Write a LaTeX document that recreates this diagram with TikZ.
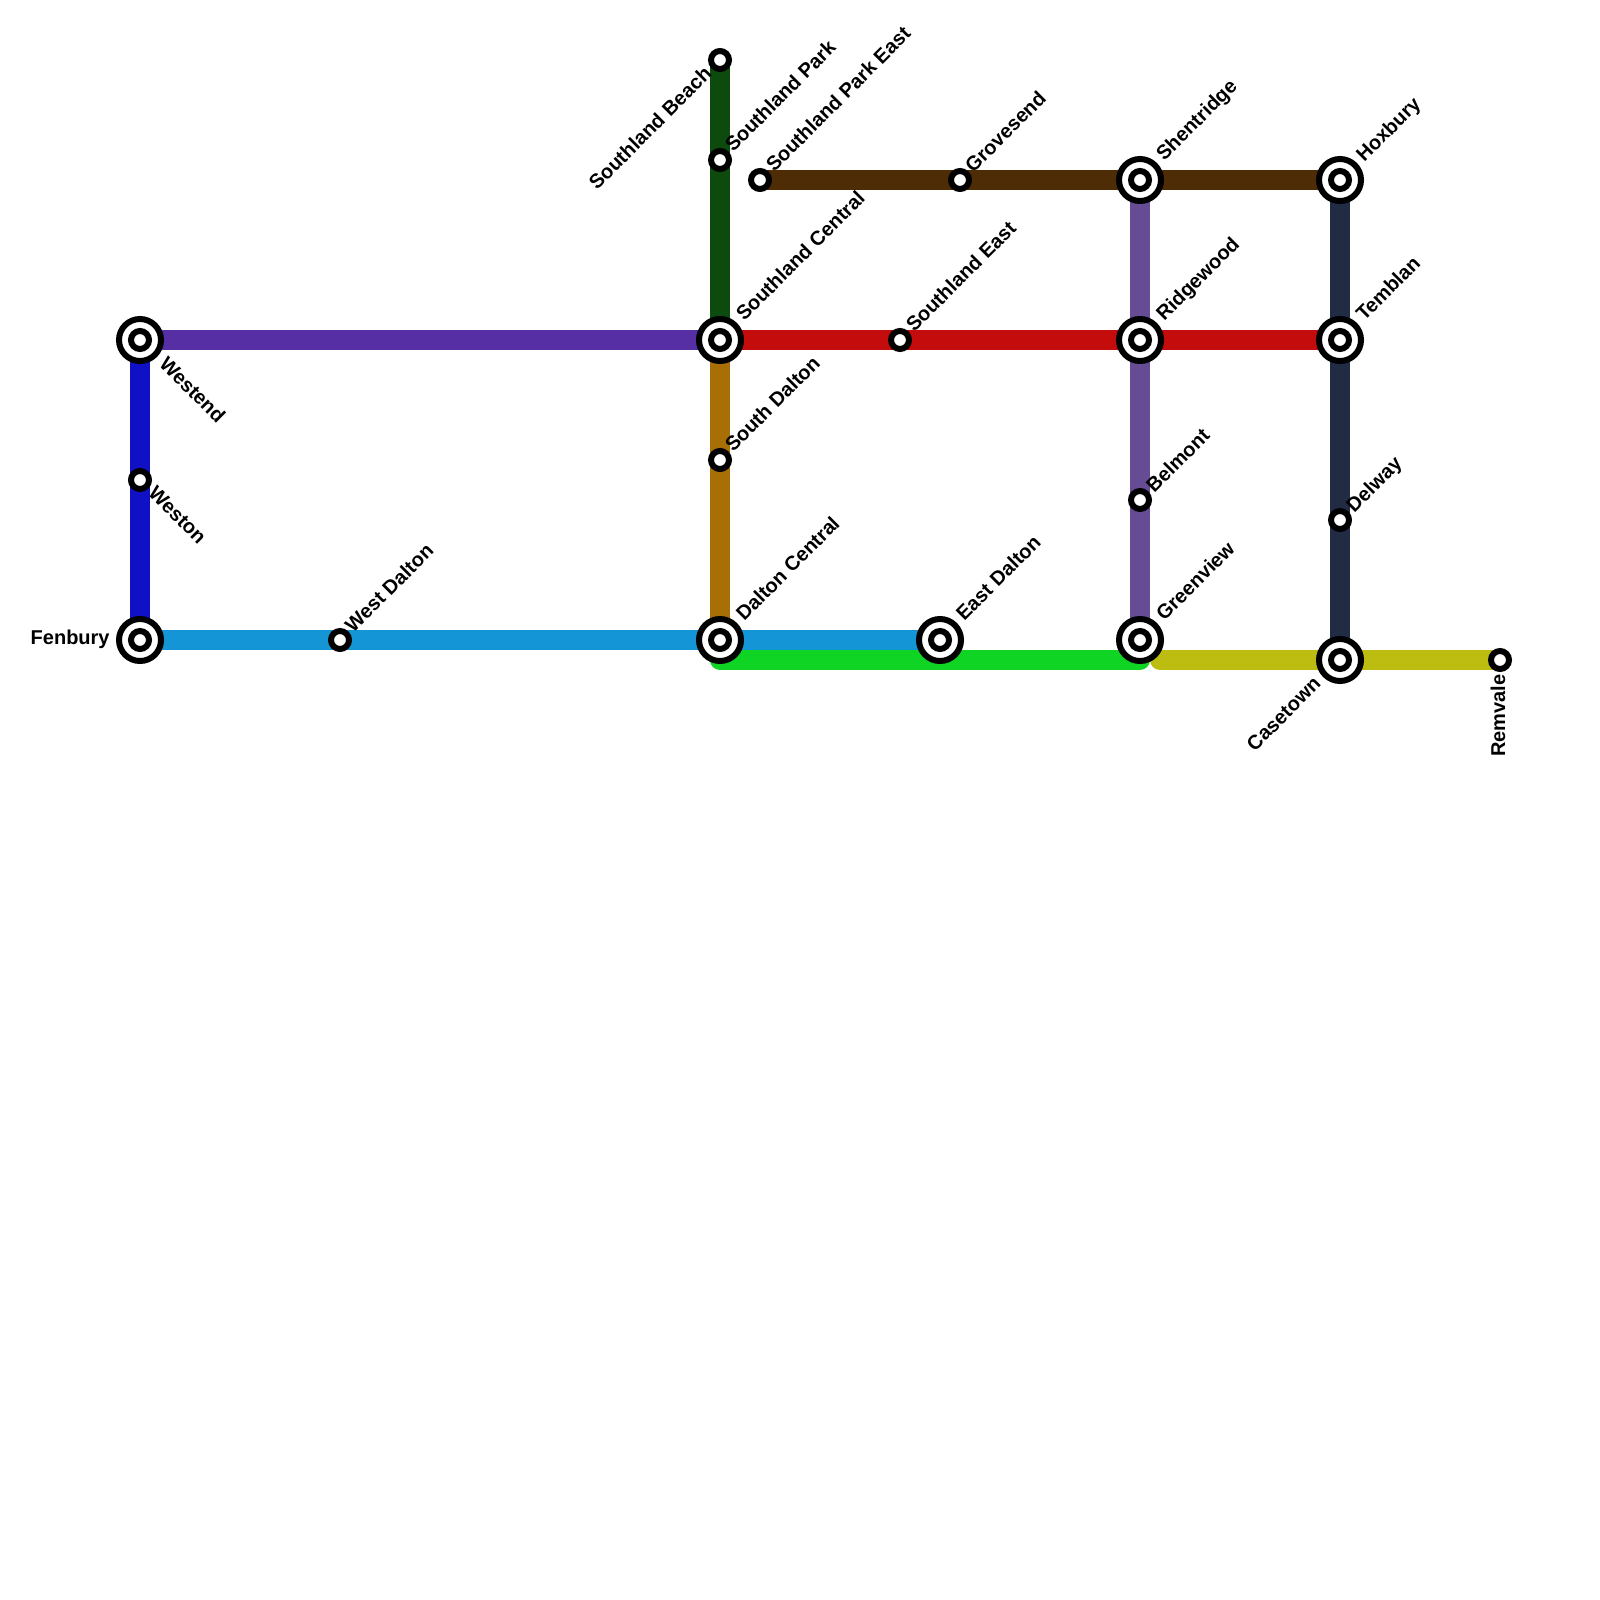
\documentclass[tikz,border=0pt]{standalone}
\usepackage{fontspec}
\setmainfont{Liberation Sans}
\usetikzlibrary{backgrounds}
\definecolor{limel}{HTML}{10D424}
\definecolor{oliv}{HTML}{BDBC10}
\definecolor{navyl}{HTML}{212C44}
\definecolor{viol}{HTML}{664C94}
\definecolor{ochre}{HTML}{A87004}
\definecolor{dgreen}{HTML}{0D4A0D}
\definecolor{blueb}{HTML}{1010C4}
\definecolor{cyanl}{HTML}{1496D6}
\definecolor{purp}{HTML}{552FA3}
\definecolor{redl}{HTML}{C40C0C}
\definecolor{brownl}{HTML}{4E2C06}
\tikzset{x=0.5pt,y=-0.5pt,
 line/.style={line width=10pt,line cap=butt},
 rline/.style={line width=10pt,line cap=round},
 ic/.style={circle,draw=black,fill=white,line width=3pt,minimum size=21pt,inner sep=0pt},
 ici/.style={circle,draw=black,fill=white,line width=3pt,minimum size=9pt,inner sep=0pt},
 st/.style={circle,draw=black,fill=white,line width=3pt,minimum size=9pt,inner sep=0pt},
 lab/.style={font=\bfseries\fontsize{10pt}{12pt}\selectfont,inner sep=0pt,text=black},
 ne/.style={lab,anchor=base west,rotate=45},
 se/.style={lab,anchor=base west,rotate=-45},
 sw/.style={lab,anchor=base east,rotate=45},
}
\begin{document}
\begin{tikzpicture}
\useasboundingbox (0,0) rectangle (1600,1600);
% interchanges
\foreach \n/\x/\y in {westend/140/340,fenbury/140/640,daltonc/720/640,southc/720/340,shent/1140/180,hox/1340/180,ridge/1140/340,temb/1340/340,eastd/940/640,green/1140/640,case/1340/660}{
 \node[ic] (\n) at (\x,\y) {};
 \node[ici] (\n-i) at (\x,\y) {};
}
\foreach \n/\x/\y in {weston/140/480,westd/340/640,southd/720/460,southp/720/160,beach/720/60,parke/760/180,grove/960/180,southe/900/340,belm/1140/500,delw/1340/520,rem/1500/660}{
 \node[st] (\n) at (\x,\y) {};
}
\coordinate (gs) at (720,660);
\coordinate (ge) at (1140,660);
\coordinate (ys) at (1160,660);
\begin{scope}[on background layer]
\draw[rline,draw=limel] (gs) -- (ge);
\draw[rline,draw=oliv] (ys) -- (rem.center);
\draw[line,draw=navyl] (hox.center) -- (delw.center) -- (case.center);
\draw[line,draw=viol] (shent.center) -- (belm.center) -- (green.center);
\draw[line,draw=ochre] (southc.center) -- (southd.center) -- (daltonc.center);
\draw[line,draw=dgreen] (beach.center) -- (southp.center) -- (southc.center);
\draw[line,draw=blueb] (westend.center) -- (weston.center) -- (fenbury.center);
\draw[line,draw=cyanl] (fenbury.center) -- (westd.center) -- (daltonc.center) -- (eastd.center);
\draw[line,draw=purp] (westend.center) -- (southc.center);
\draw[line,draw=redl] (southc.center) -- (southe.center) -- (ridge.center) -- (temb.center);
\draw[line,draw=brownl] (parke.center) -- (grove.center) -- (shent.center) -- (hox.center);
\end{scope}
% labels
\node[se] (l1) at (158,365) {Westend};
\node[se] (l2) at (147,494) {Weston};
\node[lab,anchor=base east] (l3) at (110,644) {Fenbury};
\node[ne] (l4) at (353,634) {West Dalton};
\node[sw] (l5) at (713,75) {Southland Beach};
\node[ne] (l6) at (733,153) {Southland Park};
\node[ne] (l7) at (774,173) {Southland Park East};
\node[ne] (l8) at (744,322) {Southland Central};
\node[ne] (l9) at (733,453) {South Dalton};
\node[ne] (l10) at (744,622) {Dalton Central};
\node[ne] (l11) at (914,333) {Southland East};
\node[ne] (l12) at (973,174) {Grovesend};
\node[ne] (l13) at (964,622) {East Dalton};
\node[ne] (l14) at (1164,162) {Shentridge};
\node[ne] (l15) at (1164,322) {Ridgewood};
\node[ne] (l16) at (1154,494) {Belmont};
\node[ne] (l17) at (1164,622) {Greenview};
\node[ne] (l18) at (1364,163) {Hoxbury};
\node[ne] (l19) at (1364,322) {Temblan};
\node[ne] (l20) at (1354,514) {Delway};
\node[sw] (l21) at (1322,685) {Casetown};
\node[lab,anchor=base east,rotate=90] (l22) at (1505,674) {Remvale};
\end{tikzpicture}
\end{document}
